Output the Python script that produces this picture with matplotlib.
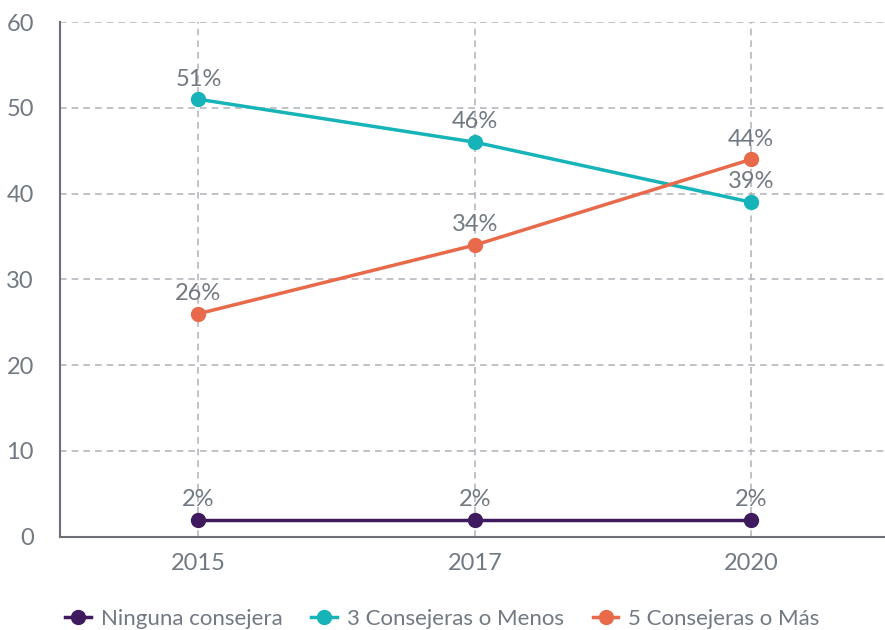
import matplotlib
matplotlib.use("Agg")
import matplotlib.pyplot as plt
from matplotlib.lines import Line2D

years = ["2015", "2017", "2020"]
ninguna = [2, 2, 2]
tres_menos = [51, 46, 39]
cinco_mas = [26, 34, 44]
series_names = ["Ninguna consejera", "3 Consejeras o Menos", "5 Consejeras o Más"]
colors = ["#3f1a5e", "#16b3b8", "#e86a4b"]
yticks = [0, 10, 20, 30, 40, 50, 60]

plt.rcParams['font.family'] = ['Lato', 'DejaVu Sans']
txt = "#717983"

fig = plt.figure(figsize=(8.85, 6.3), dpi=100)
ax = fig.add_axes([0.068, 0.148, 0.937, 0.817])

x = list(range(len(years)))
for vals, name, c in zip([ninguna, tres_menos, cinco_mas], series_names, colors):
    ax.plot(x, vals, color=c, lw=2.5, marker="o", ms=10, label=name, zorder=3)
    for xi, v in zip(x, vals):
        ax.annotate(f"{v}%", (xi, v), xytext=(0, 7), textcoords="offset points",
                    ha="center", va="bottom", fontsize=17, color=txt, zorder=4)

ax.set_xlim(-0.5, 2.5)
ax.set_ylim(0, 60)
ax.set_yticks(yticks)
ax.set_xticks(x)
ax.set_xticklabels(years)
ax.grid(True, color="#b5b8bd", ls=(0, (4, 3)), lw=1.2, zorder=0)
for s in ["top", "right"]:
    ax.spines[s].set_visible(False)
for s in ["left", "bottom"]:
    ax.spines[s].set_color("#6b7078")
    ax.spines[s].set_linewidth(1.5)
ax.tick_params(length=0, labelsize=17, colors=txt, pad=12)
ax.tick_params(axis="y", pad=19)

handles = [Line2D([0], [0], color=c, lw=2.5, marker="o", ms=10) for c in colors]
fig.legend(handles, series_names, loc="lower center", bbox_to_anchor=(0.5, -0.03),
           ncol=3, frameon=False, fontsize=16, labelcolor=txt, handlelength=1.15,
           handletextpad=0.45, columnspacing=1.3)

fig.savefig("out.png", dpi=100)
